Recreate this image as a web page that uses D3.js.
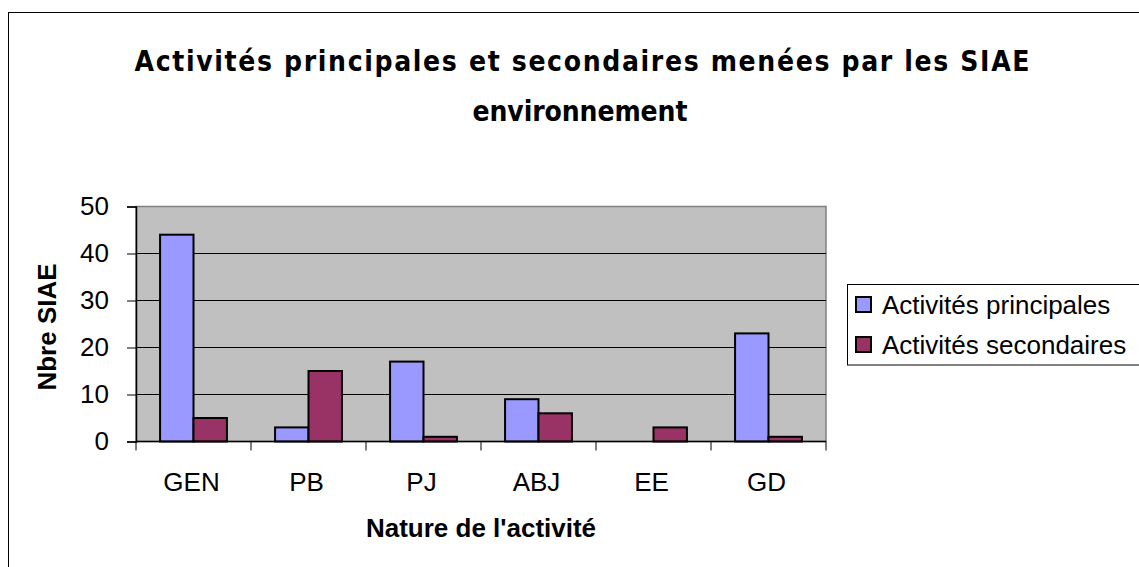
<!DOCTYPE html>
<html>
<head>
<meta charset="utf-8">
<script src="https://cdn.jsdelivr.net/npm/d3@7"></script>
<style>
  body { margin: 0; background: #fff; }
  svg { display: block; }
</style>
</head>
<body>
<script>
// data
var categories = ["GEN", "PB", "PJ", "ABJ", "EE", "GD"];
var seriesNames = ["Activités principales", "Activités secondaires"];
var principales = [44, 3, 17, 9, 0, 23];
var secondaires = [5, 15, 1, 6, 3, 1];
var yTicks = [0, 10, 20, 30, 40, 50];
var colors = ["#9999ff", "#993366"];

var W = 1139, H = 567;
var plot = { left: 136, right: 826, top: 206.5, bottom: 441.5 };

const svg = d3
  .select("body")
  .append("svg")
  .attr("width", W)
  .attr("height", H);

// outer chart frame (runs off the right and bottom of the picture)
svg.append("rect")
  .attr("x", 8.5).attr("y", 12.5)
  .attr("width", 1300).attr("height", 700)
  .attr("fill", "#fff")
  .attr("stroke", "#000")
  .attr("stroke-width", 1);

// title
const titleFont = "'DejaVu Sans Condensed', 'DejaVu Sans', sans-serif";
svg.append("text")
  .attr("x", 582).attr("y", 71)
  .attr("text-anchor", "middle")
  .attr("font-family", titleFont)
  .attr("font-weight", "bold")
  .attr("font-size", 28)
  .attr("textLength", 895)
  .attr("lengthAdjust", "spacing")
  .text("Activités principales et secondaires menées par les SIAE");
svg.append("text")
  .attr("x", 580).attr("y", 121)
  .attr("text-anchor", "middle")
  .attr("font-family", titleFont)
  .attr("font-weight", "bold")
  .attr("font-size", 28)
  .attr("textLength", 215)
  .attr("lengthAdjust", "spacing")
  .text("environnement");

const x0 = d3.scaleBand()
  .domain(categories)
  .range([plot.left, plot.right])
  .paddingInner(0).paddingOuter(0);

const x1 = d3.scaleBand()
  .domain(seriesNames)
  .range([0, x0.bandwidth()])
  .paddingInner(0)
  .paddingOuter(0.72);

const y = d3.scaleLinear()
  .domain([0, 50])
  .range([plot.bottom, plot.top]);

// plot area
svg.append("rect")
  .attr("x", plot.left).attr("y", plot.top)
  .attr("width", plot.right - plot.left)
  .attr("height", plot.bottom - plot.top)
  .attr("fill", "#c0c0c0")
  .attr("stroke", "#808080")
  .attr("stroke-width", 1.5);

// gridlines
svg.append("g")
  .selectAll("line")
  .data(yTicks.filter(d => d > 0 && d < 50))
  .enter()
  .append("line")
  .attr("x1", plot.left).attr("x2", plot.right)
  .attr("y1", d => y(d)).attr("y2", d => y(d))
  .attr("stroke", "#000")
  .attr("stroke-width", 1);

// bars
const rows = categories.map((c, i) => ({
  cat: c,
  vals: [principales[i], secondaires[i]]
}));

svg.append("g")
  .selectAll("g")
  .data(rows)
  .enter()
  .append("g")
  .attr("transform", d => "translate(" + x0(d.cat) + ",0)")
  .selectAll("rect")
  .data(d => d.vals.map((v, j) => ({ s: seriesNames[j], v: v, j: j })).filter(e => e.v > 0))
  .enter()
  .append("rect")
  .attr("x", d => x1(d.s))
  .attr("y", d => y(d.v))
  .attr("width", x1.bandwidth())
  .attr("height", d => y(0) - y(d.v))
  .attr("fill", d => colors[d.j])
  .attr("stroke", "#000")
  .attr("stroke-width", 2);

// y axis
const yAxis = d3.axisLeft(y)
  .tickValues(yTicks)
  .tickSize(9)
  .tickPadding(18)
  .tickFormat(d3.format("d"));

const gy = svg.append("g")
  .attr("transform", "translate(" + plot.left + ",0)")
  .call(yAxis);
gy.select(".domain").attr("stroke", "#000").attr("stroke-width", 1.5);
gy.selectAll(".tick line").attr("stroke", "#000");
gy.selectAll(".tick text")
  .attr("font-family", "'Liberation Sans', Arial, sans-serif")
  .attr("font-size", 26)
  .attr("fill", "#000");

// x axis: ticks at category boundaries
const gx = svg.append("g")
  .attr("transform", "translate(0," + plot.bottom + ")");
gx.append("line")
  .attr("x1", plot.left).attr("x2", plot.right)
  .attr("stroke", "#000").attr("stroke-width", 1.5);
gx.selectAll(".bnd")
  .data(categories.concat(["end"]))
  .enter()
  .append("line")
  .attr("class", "bnd")
  .attr("x1", (d, i) => plot.left + i * x0.step())
  .attr("x2", (d, i) => plot.left + i * x0.step())
  .attr("y1", 0).attr("y2", 9)
  .attr("stroke", "#000");
gx.selectAll(".lbl")
  .data(categories)
  .enter()
  .append("text")
  .attr("class", "lbl")
  .attr("x", d => x0(d) + x0.bandwidth() / 2 - 2)
  .attr("y", 49)
  .attr("text-anchor", "middle")
  .attr("font-family", "'Liberation Sans', Arial, sans-serif")
  .attr("font-size", 26)
  .text(d => d);

// axis titles
svg.append("text")
  .attr("x", 481).attr("y", 537)
  .attr("text-anchor", "middle")
  .attr("font-family", "'Liberation Sans', Arial, sans-serif")
  .attr("font-weight", "bold")
  .attr("font-size", 26)
  .text("Nature de l'activité");

svg.append("text")
  .attr("transform", "translate(56,327) rotate(-90)")
  .attr("text-anchor", "middle")
  .attr("font-family", "'Liberation Sans', Arial, sans-serif")
  .attr("font-weight", "bold")
  .attr("font-size", 26)
  .text("Nbre SIAE");

// legend
const legend = svg.append("g");
legend.append("rect")
  .attr("x", 847.5).attr("y", 284.5)
  .attr("width", 400).attr("height", 80.5)
  .attr("fill", "#fff")
  .attr("stroke", "#000")
  .attr("stroke-width", 1);

const items = legend.selectAll(".item")
  .data(seriesNames)
  .enter()
  .append("g")
  .attr("class", "item")
  .attr("transform", (d, i) => "translate(856," + (305 + i * 40) + ")");
items.append("rect")
  .attr("x", 0).attr("y", -8)
  .attr("width", 15).attr("height", 15)
  .attr("fill", (d, i) => colors[i])
  .attr("stroke", "#000")
  .attr("stroke-width", 2);
items.append("text")
  .attr("x", 26).attr("y", 9)
  .attr("font-family", "'Liberation Sans', Arial, sans-serif")
  .attr("font-size", 26)
  .text(d => d);
</script>
</body>
</html>
